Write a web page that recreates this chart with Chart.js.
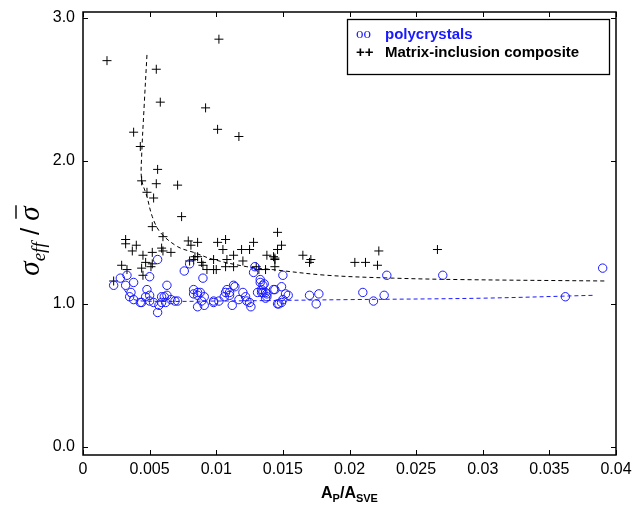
<!DOCTYPE html>
<html>
<head>
<meta charset="utf-8">
<script src="https://cdn.jsdelivr.net/npm/chart.js@4.4.1/dist/chart.umd.min.js"></script>
<style>
  html, body { margin: 0; padding: 0; background: #fff; }
  #wrap { width: 643px; height: 507px; }
</style>
</head>
<body>
<div id="wrap"><canvas id="chart" width="643" height="507"></canvas></div>
<script>
// Effective stress ratio vs. particle area fraction

const xTicks = [0, 0.005, 0.01, 0.015, 0.02, 0.025, 0.03, 0.035, 0.04];
const yTicks = [0, 1, 2, 3];

// polycrystals (open circles)
const polyX = [0.0056, 0.0023, 0.0028, 0.0033, 0.0038, 0.0032, 0.0050, 0.0063, 0.0048, 0.0036,
  0.0035, 0.0038, 0.0043, 0.0044, 0.0047, 0.0050, 0.0050, 0.0053, 0.0056, 0.0057,
  0.0059, 0.0061, 0.0063, 0.0066, 0.0069, 0.0071, 0.0059, 0.0062, 0.0076, 0.0080,
  0.0090, 0.0083, 0.0086, 0.0083, 0.0088, 0.0086, 0.0091, 0.0089, 0.0086, 0.0091,
  0.0098, 0.0098, 0.0102, 0.0106, 0.0108, 0.0110, 0.0113, 0.0114, 0.0107, 0.0110,
  0.0112, 0.0117, 0.0120, 0.0122, 0.0123, 0.0125, 0.0126, 0.0129, 0.0128, 0.0133,
  0.0135, 0.0131, 0.0134, 0.0137, 0.0143, 0.0138, 0.0146, 0.0133, 0.0136, 0.0134,
  0.0135, 0.0138, 0.0137, 0.0144, 0.0149, 0.0150, 0.0152, 0.0154, 0.0150, 0.0149,
  0.0147, 0.0170, 0.0177, 0.0175, 0.0210, 0.0218, 0.0226, 0.0228, 0.0270, 0.0390,
  0.0362];
const polyY = [1.31, 1.13, 1.18, 1.20, 1.15, 1.13, 1.19, 1.13, 1.10, 1.08,
  1.05, 1.03, 1.01, 1.01, 1.05, 1.06, 1.02, 1.01, 0.94, 0.99,
  1.05, 1.05, 1.06, 1.03, 1.02, 1.02, 1.01, 1.01, 1.23, 1.28,
  1.18, 1.10, 1.08, 1.07, 1.08, 1.06, 1.05, 1.02, 0.98, 0.99,
  1.02, 1.01, 1.02, 1.05, 1.10, 1.08, 1.13, 1.12, 1.08, 1.06,
  0.99, 1.03, 1.08, 1.05, 1.02, 1.01, 0.98, 1.26, 1.22, 1.15,
  1.13, 1.08, 1.08, 1.08, 1.10, 1.05, 1.00, 1.17, 1.14, 1.10,
  1.08, 1.07, 1.04, 1.10, 1.12, 1.20, 1.07, 1.06, 1.03, 1.01,
  1.00, 1.06, 1.07, 1.00, 1.08, 1.02, 1.06, 1.20, 1.20, 1.25,
  1.05];

// matrix-inclusion composite (crosses)
const compX = [0.0018, 0.0102, 0.0055, 0.0058, 0.0092, 0.0101, 0.0117, 0.0038, 0.0043, 0.0056,
  0.0044, 0.0055, 0.0071, 0.0048, 0.0053, 0.0074, 0.0052, 0.0060, 0.0032, 0.0032,
  0.0040, 0.0037, 0.0045, 0.0052, 0.0059, 0.0060, 0.0066, 0.0047, 0.0052, 0.0051,
  0.0029, 0.0033, 0.0044, 0.0045, 0.0023, 0.0079, 0.0086, 0.0081, 0.0101, 0.0107,
  0.0105, 0.0128, 0.0125, 0.0119, 0.0146, 0.0146, 0.0084, 0.0083, 0.0080, 0.0086,
  0.0089, 0.0090, 0.0098, 0.0098, 0.0093, 0.0100, 0.0108, 0.0107, 0.0113, 0.0120,
  0.0113, 0.0130, 0.0132, 0.0138, 0.0144, 0.0144, 0.0137, 0.0149, 0.0143, 0.0144,
  0.0165, 0.0171, 0.0170, 0.0204, 0.0212, 0.0222, 0.0221, 0.0266];
const compY = [2.70, 2.85, 2.64, 2.41, 2.37, 2.22, 2.17, 2.20, 2.10, 1.94,
  1.86, 1.84, 1.83, 1.78, 1.74, 1.61, 1.54, 1.47, 1.45, 1.42,
  1.41, 1.37, 1.34, 1.36, 1.39, 1.37, 1.36, 1.29, 1.28, 1.26,
  1.27, 1.24, 1.25, 1.20, 1.16, 1.44, 1.43, 1.41, 1.43, 1.45,
  1.38, 1.43, 1.38, 1.38, 1.50, 1.38, 1.33, 1.31, 1.30, 1.33,
  1.29, 1.27, 1.31, 1.24, 1.24, 1.24, 1.31, 1.26, 1.34, 1.30,
  1.26, 1.26, 1.24, 1.34, 1.32, 1.31, 1.24, 1.41, 1.33, 1.26,
  1.34, 1.31, 1.29, 1.29, 1.29, 1.37, 1.27, 1.38];

// fitted trend curves (dashed)
const compFitX = [0.0048, 0.0046, 0.0044, 0.0044, 0.0048, 0.0052, 0.0058, 0.0071, 0.0083, 0.0098, 0.0123, 0.0142, 0.0183, 0.0233, 0.0283, 0.0393];
const compFitY = [2.74, 2.40, 2.03, 1.87, 1.75, 1.61, 1.50, 1.40, 1.36, 1.31, 1.26, 1.24, 1.20, 1.18, 1.17, 1.16];
const polyFitX = [0.0031, 0.0036, 0.0045, 0.0100, 0.0200, 0.0300, 0.0383];
const polyFitY = [1.10, 1.04, 1.02, 1.02, 1.03, 1.04, 1.06];

const BLUE = "rgb(25,25,255)";
const SANS = "'Liberation Sans', Arial, Helvetica, sans-serif";
const SERIF = "'Liberation Serif', 'Times New Roman', serif";

function toPoints(xs, ys) {
  return xs.map((x, i) => ({ x: x, y: ys[i] }));
}

// frame with inward ticks, axis titles and boxed legend
const framePlugin = {
  id: "frame",
  afterDraw(chart) {
    const ctx = chart.ctx;
    const a = chart.chartArea;
    const xs = chart.scales.x;
    const ys = chart.scales.y;
    const tl = 5;

    ctx.save();
    ctx.strokeStyle = "#000";
    ctx.lineWidth = 1.5;
    ctx.strokeRect(a.left, a.top, a.right - a.left, a.bottom - a.top);

    ctx.lineWidth = 1;
    ctx.beginPath();
    xTicks.forEach(v => {
      const px = Math.round(xs.getPixelForValue(v)) + 0.5;
      ctx.moveTo(px, a.bottom); ctx.lineTo(px, a.bottom - tl);
      ctx.moveTo(px, a.top); ctx.lineTo(px, a.top + tl);
    });
    yTicks.forEach(v => {
      const py = Math.round(ys.getPixelForValue(v)) + 0.5;
      ctx.moveTo(a.left, py); ctx.lineTo(a.left + tl, py);
      ctx.moveTo(a.right, py); ctx.lineTo(a.right - tl, py);
    });
    ctx.stroke();

    // x title: A_P / A_SVE
    ctx.fillStyle = "#000";
    ctx.textBaseline = "alphabetic";
    const big = "bold 16px " + SANS;
    const small = "bold 11px " + SANS;
    const parts = [["A", big, 0], ["P", small, 4], ["/A", big, 0], ["SVE", small, 4]];
    let w = 0;
    parts.forEach(p => { ctx.font = p[1]; w += ctx.measureText(p[0]).width; });
    let cx = (a.left + a.right) / 2 - w / 2;
    parts.forEach(p => {
      ctx.font = p[1];
      ctx.fillText(p[0], cx, 498 + p[2]);
      cx += ctx.measureText(p[0]).width;
    });

    // y title: sigma_eff / sigma-bar
    ctx.save();
    ctx.translate(39, 241);
    ctx.rotate(-Math.PI / 2);
    const sig = "italic 29px " + SERIF;
    const sub = "italic 19px " + SERIF;
    const sl = "26px " + SANS;
    const yparts = [["σ", sig, 0], ["eff", sub, 6], [" / ", sl, 0], ["σ", sig, 0]];
    w = 0;
    yparts.forEach(p => { ctx.font = p[1]; w += ctx.measureText(p[0]).width; });
    cx = -w / 2;
    yparts.forEach((p, i) => {
      ctx.font = p[1];
      ctx.fillText(p[0], cx, p[2]);
      const pw = ctx.measureText(p[0]).width;
      if (i === 3) {
        ctx.lineWidth = 1.4;
        ctx.beginPath();
        ctx.moveTo(cx + 2, -23);
        ctx.lineTo(cx + pw + 1, -23);
        ctx.stroke();
      }
      cx += pw;
    });
    ctx.restore();

    // legend
    ctx.lineWidth = 1.3;
    ctx.strokeRect(347.5, 19.5, 262, 55);
    ctx.font = "15px " + SERIF;
    ctx.fillStyle = BLUE;
    ctx.fillText("oo", 356, 38);
    ctx.font = "bold 15px " + SANS;
    ctx.fillText("polycrystals", 385, 39);
    ctx.fillStyle = "#000";
    ctx.fillText("++", 356, 57);
    ctx.fillText("Matrix-inclusion composite", 385, 57);
    ctx.restore();
  }
};

const chart = new Chart(document.getElementById("chart").getContext("2d"), {
  type: "scatter",
  data: {
    datasets: [
      {
        label: "polycrystals",
        data: toPoints(polyX, polyY),
        pointStyle: "circle",
        pointRadius: 4.2,
        borderColor: BLUE,
        backgroundColor: "rgba(0,0,0,0)",
        borderWidth: 1
      },
      {
        label: "Matrix-inclusion composite",
        data: toPoints(compX, compY),
        pointStyle: "cross",
        pointRadius: 4.5,
        borderColor: "#000",
        borderWidth: 1
      },
      {
        label: "composite fit",
        data: toPoints(compFitX, compFitY),
        showLine: true,
        pointRadius: 0,
        borderColor: "#000",
        borderWidth: 1,
        borderDash: [4, 3],
        tension: 0.35
      },
      {
        label: "polycrystal fit",
        data: toPoints(polyFitX, polyFitY),
        showLine: true,
        pointRadius: 0,
        borderColor: BLUE,
        borderWidth: 1,
        borderDash: [4, 3],
        tension: 0.35
      }
    ]
  },
  options: {
    responsive: false,
    animation: false,
    layout: { padding: { top: 12, right: 27, left: 0, bottom: 0 } },
    plugins: {
      legend: { display: false },
      tooltip: { enabled: false }
    },
    scales: {
      x: {
        type: "linear",
        min: 0,
        max: 0.04,
        afterBuildTicks: s => { s.ticks = xTicks.map(v => ({ value: v })); },
        afterFit: s => { s.height = 52; s.paddingLeft = 0; s.paddingRight = 0; },
        grid: { display: false, drawTicks: false },
        border: { display: false },
        ticks: {
          padding: 5,
          color: "#000",
          font: { family: SANS, size: 16 },
          maxRotation: 0,
          callback: v => String(+v.toFixed(3))
        }
      },
      y: {
        type: "linear",
        min: -0.056,
        max: 3.04,
        afterBuildTicks: s => { s.ticks = yTicks.map(v => ({ value: v })); },
        afterFit: s => { s.width = 83; s.paddingTop = 0; s.paddingBottom = 0; },
        grid: { display: false, drawTicks: false },
        border: { display: false },
        ticks: {
          padding: 8,
          color: "#000",
          font: { family: SANS, size: 16 },
          callback: v => v.toFixed(1)
        }
      }
    }
  },
  plugins: [framePlugin]
});
</script>
</body>
</html>
